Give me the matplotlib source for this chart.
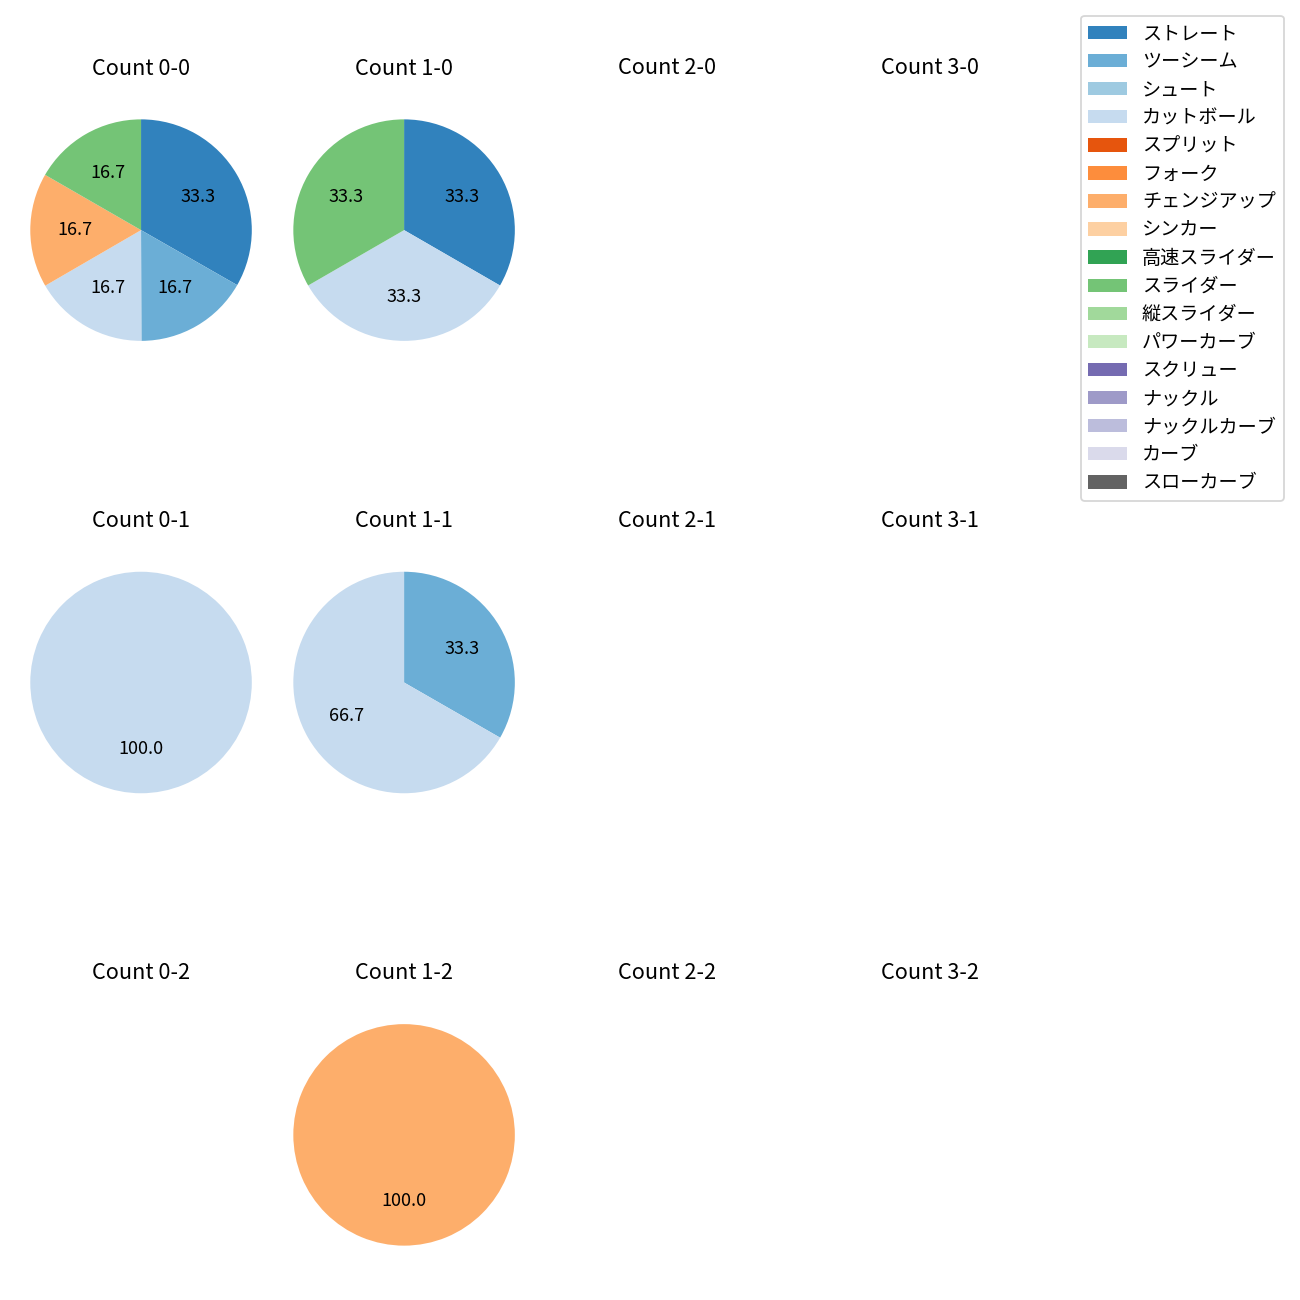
import matplotlib
matplotlib.use("Agg")
import matplotlib.pyplot as plt
from matplotlib.patches import Patch

plt.rcParams['font.family'] = ['Noto Sans CJK JP', 'DejaVu Sans']

pitch_types = ["ストレート", "ツーシーム", "シュート", "カットボール", "スプリット", "フォーク",
               "チェンジアップ", "シンカー", "高速スライダー", "スライダー", "縦スライダー",
               "パワーカーブ", "スクリュー", "ナックル", "ナックルカーブ", "カーブ", "スローカーブ"]
pitch_colors = ["#3182bd", "#6baed6", "#9ecae1", "#c6dbef", "#e6550d", "#fd8d3c",
                "#fdae6b", "#fdd0a2", "#31a354", "#74c476", "#a1d99b", "#c7e9c0",
                "#756bb1", "#9e9ac8", "#bcbddc", "#dadaeb", "#636363"]

# percentages per count (balls-strikes)
count_0_0 = {"ストレート": 33.3, "ツーシーム": 16.7, "カットボール": 16.7, "チェンジアップ": 16.7, "スライダー": 16.7}
count_1_0 = {"ストレート": 33.3, "カットボール": 33.3, "スライダー": 33.3}
count_0_1 = {"カットボール": 100.0}
count_1_1 = {"ツーシーム": 33.3, "カットボール": 66.7}
count_1_2 = {"チェンジアップ": 100.0}

data = {(0, 0): count_0_0, (1, 0): count_1_0, (0, 1): count_0_1,
        (1, 1): count_1_1, (1, 2): count_1_2}

color_map = dict(zip(pitch_types, pitch_colors))

fig, axes = plt.subplots(3, 4, figsize=(10, 10), dpi=130)
fig.subplots_adjust(left=0.002, right=0.822, top=0.9296, bottom=0.0204, wspace=-0.05, hspace=0.632)

for strikes in range(3):
    for balls in range(4):
        ax = axes[strikes][balls]
        ax.set_title(f"Count {balls}-{strikes}", pad=9.5)
        d = data.get((balls, strikes))
        if d:
            labels = [p for p in pitch_types if p in d]
            vals = [d[p] for p in labels]
            cols = [color_map[p] for p in labels]
            ax.pie(vals, colors=cols, startangle=90, counterclock=False, autopct='%.1f')
        else:
            ax.axis('off')

handles = [Patch(facecolor=c, label=p) for p, c in zip(pitch_types, pitch_colors)]
fig.legend(handles=handles, loc='upper right', bbox_to_anchor=(0.9947, 0.9954),
           fontsize=10.6, labelspacing=0.37)

fig.savefig("out.png", dpi=130)
